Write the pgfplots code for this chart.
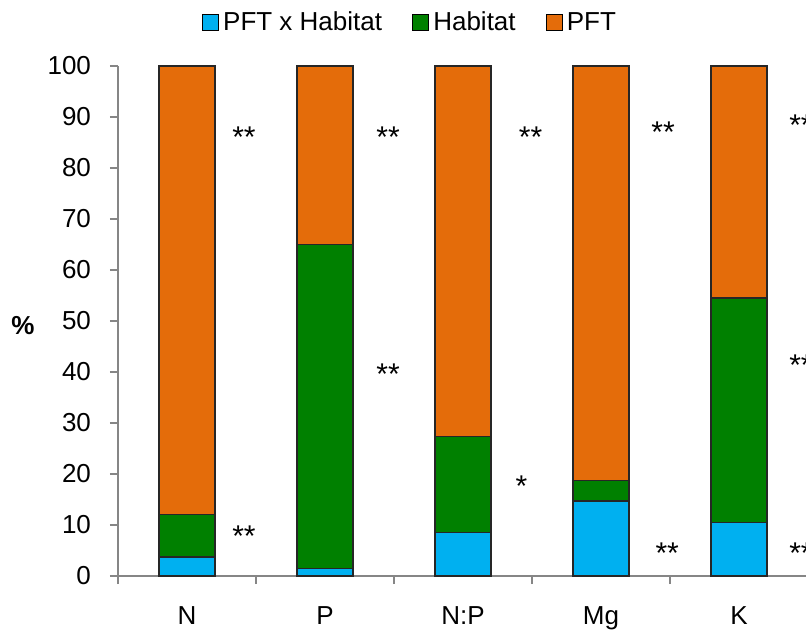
\documentclass[border=0pt]{standalone}
\usepackage{pgfplots}
\pgfplotsset{compat=1.18}
\usepackage{fontspec}
\setmainfont{Liberation Sans}
\definecolor{cPFTH}{RGB}{0,176,240}
\definecolor{cHab}{RGB}{0,128,0}
\definecolor{cPFT}{RGB}{228,108,10}
\definecolor{axgray}{RGB}{134,134,134}
\tikzset{stars/.style={font=\fontsize{15}{17}\selectfont, inner sep=0pt, yshift=-0.21em}}

\begin{document}
\begin{tikzpicture}
% the reference is cut at the right edge, so fix the page size
\useasboundingbox (-59pt,-27pt) rectangle (344pt,288pt);
\begin{axis}[
  scale only axis, width=345pt, height=255pt,
  xmin=-0.5, xmax=4.5, ymin=0, ymax=100,
  ybar stacked, bar width=28pt,
  clip=false,
  axis x line=bottom, axis y line=left,
  axis line style={axgray, line width=0.6pt, -},
  tick style={axgray, line width=0.6pt},
  tick align=outside, major tick length=4pt,
  ytick={0,10,...,100},
  yticklabel style={xshift=-6pt},
  xtick={-0.5,0.5,1.5,2.5,3.5,4.5}, xticklabels={},
  extra x ticks={0,1,2,3,4},
  extra x tick labels={N,P,N:P,Mg,K},
  extra x tick style={major tick length=0pt, xticklabel style={yshift=-12pt}},
  tick label style={font=\fontsize{13}{15}\selectfont, black},
  /pgf/number format/assume math mode=true,
  legend style={at={(rel axis cs:0.4246,1.086)}, anchor=center,
    draw=none, fill=none, inner sep=0pt,
    font=\fontsize{13}{15}\selectfont,
    nodes={inner xsep=2pt, text height=1.9ex, text depth=0.3ex},
    /tikz/every even column/.append style={column sep=13pt}},
  legend columns=3,
  legend image code/.code={\draw[#1, draw=black, line width=0.6pt] (0pt,-4pt) rectangle (8pt,4pt);},
]
\addplot[fill=cPFTH, draw=black!85, line width=0.7pt] coordinates {(0,3.7) (1,1.5) (2,8.5) (3,14.7) (4,10.5)};
\addlegendentry{PFT x Habitat}
\addplot[fill=cHab, draw=black!85, line width=0.7pt] coordinates {(0,8.3) (1,63.5) (2,18.8) (3,4.0) (4,44.0)};
\addlegendentry{Habitat}
\addplot[fill=cPFT, draw=black!85, line width=0.7pt] coordinates {(0,88.0) (1,35.0) (2,72.7) (3,81.3) (4,45.5)};
\addlegendentry{PFT}

\node[font=\fontsize{13}{15}\selectfont\bfseries] at (rel axis cs:0,0.492) [xshift=-47.5pt] {\%};

\node[stars] at (axis cs:0.413,86.8) {**};
\node[stars] at (axis cs:0.413,8.7) {**};
\node[stars] at (axis cs:1.457,86.8) {**};
\node[stars] at (axis cs:1.457,40.4) {**};
\node[stars] at (axis cs:2.49,86.8) {**};
\node[stars] at (axis cs:2.424,18.5) {*};
\node[stars] at (axis cs:3.45,87.8) {**};
\node[stars] at (axis cs:3.48,5.2) {**};
\node[stars] at (axis cs:4.449,89.2) {**};
\node[stars] at (axis cs:4.449,42.2) {**};
\node[stars] at (axis cs:4.449,5.2) {**};
\end{axis}
\end{tikzpicture}
\end{document}
